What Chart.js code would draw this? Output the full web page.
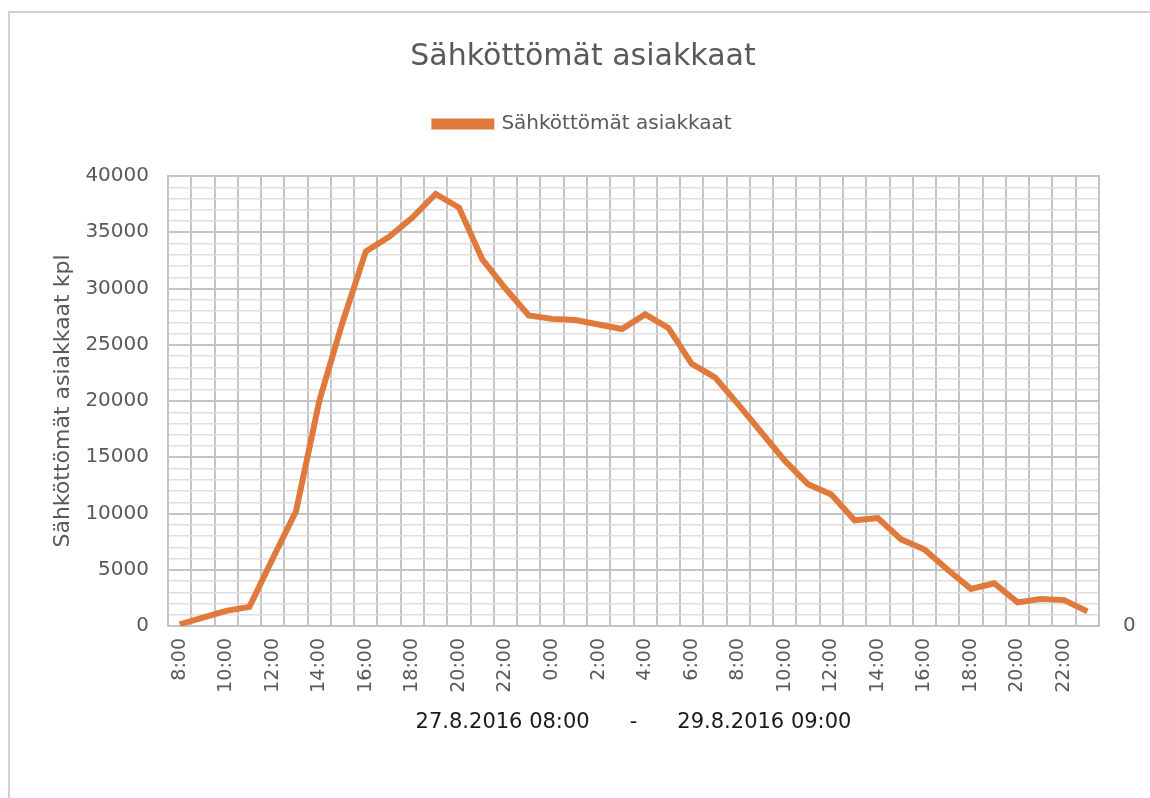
<!DOCTYPE html>
<html>
<head>
<meta charset="utf-8">
<script src="https://cdn.jsdelivr.net/npm/chart.js@4.4.1/dist/chart.umd.min.js"></script>
<style>
  html, body { margin: 0; padding: 0; background: #fff; overflow: hidden; }
  #wrap { position: relative; width: 1150px; height: 798px; }
  #frame { position: absolute; left: 8px; top: 11px; width: 1200px; height: 900px; border: 2px solid #d0d0d0; box-sizing: border-box; }
  canvas { position: absolute; left: 0; top: 0; }
</style>
</head>
<body>
<div id="wrap">
  <div id="frame"></div>
  <canvas id="chart" width="1150" height="798"></canvas>
</div>
<script>
'use strict';

// hourly readings, 27.8.2016 08:00 -> 28.8.2016 23:00
var hours = ['8:00', '9:00', '10:00', '11:00', '12:00', '13:00', '14:00', '15:00', '16:00', '17:00',
             '18:00', '19:00', '20:00', '21:00', '22:00', '23:00', '0:00', '1:00', '2:00', '3:00',
             '4:00', '5:00', '6:00', '7:00', '8:00', '9:00', '10:00', '11:00', '12:00', '13:00',
             '14:00', '15:00', '16:00', '17:00', '18:00', '19:00', '20:00', '21:00', '22:00', '23:00'];

var customers = [150, 750, 1350, 1700, 6000, 10200, 20000, 27000, 33300, 34600,
                 36300, 38400, 37200, 32600, 30000, 27600, 27300, 27200, 26800, 26400,
                 27700, 26500, 23300, 22100, 19700, 17200, 14700, 12600, 11700, 9400,
                 9600, 7700, 6800, 5000, 3300, 3800, 2100, 2400, 2300, 1300];

var seriesName = 'Sähköttömät asiakkaat';
var yTitle = 'Sähköttömät asiakkaat kpl';
var xTitle = '27.8.2016 08:00      -      29.8.2016 09:00';

var font = "'DejaVu Sans', sans-serif";
var gray = '#595959';
var orange = '#DF7A3C';

// push the plot area down below the legend, like the original
var legendGap = {
    id: 'legendGap',
    beforeInit: function(chart) {
        var fit = chart.legend.fit;
        chart.legend.fit = function() {
            fit.call(this);
            this.height += 32;
        };
    }
};

var ctx = document.getElementById('chart').getContext('2d');

var chart = new Chart(ctx, {
    type: 'line',
    data: {
        labels: hours,
        datasets: [
            {
                label: seriesName,
                data: customers,
                borderColor: orange,
                backgroundColor: orange,
                borderWidth: 6,
                pointRadius: 0,
                tension: 0,
                fill: false,
                yAxisID: 'y'
            }
        ]
    },
    plugins: [legendGap],
    options: {
        responsive: false,
        animation: false,
        layout: { padding: { left: 24, right: 8, top: 0, bottom: 0 } },
        plugins: {
            title: {
                display: true,
                text: seriesName,
                color: gray,
                font: { family: font, size: 30, weight: 'normal' },
                padding: { top: 39, bottom: 29 }
            },
            legend: {
                display: true,
                labels: {
                    color: gray,
                    font: { family: font, size: 20 },
                    boxWidth: 57,
                    boxHeight: 5,
                    padding: 10
                }
            },
            tooltip: { enabled: false }
        },
        scales: {
            x: {
                offset: true,
                grid: { offset: true, color: '#c4c4c4', lineWidth: 2, drawTicks: false },
                border: { color: '#c4c4c4', width: 2 },
                ticks: {
                    autoSkip: false,
                    minRotation: 90,
                    maxRotation: 90,
                    padding: 12,
                    color: gray,
                    font: { family: font, size: 19 },
                    callback: function(val, idx) {
                        return idx % 2 === 0 ? hours[idx] : '';
                    }
                },
                title: {
                    display: true,
                    text: xTitle,
                    color: '#1a1a1a',
                    font: { family: font, size: 21 },
                    padding: { top: 0, bottom: 63 }
                },
                afterFit: function(scale) { scale.height = 172; }
            },
            y: {
                position: 'left',
                min: 0,
                max: 40000,
                grid: {
                    drawTicks: false,
                    lineWidth: function(c) { return c.tick && c.tick.value % 5000 === 0 ? 2 : 1.5; },
                    color: function(c) { return c.tick && c.tick.value % 5000 === 0 ? '#c4c4c4' : '#dedede'; }
                },
                border: { color: '#c4c4c4', width: 2 },
                ticks: {
                    stepSize: 1000,
                    autoSkip: false,
                    padding: 19,
                    color: gray,
                    font: { family: font, size: 20 },
                    callback: function(v) { return v % 5000 === 0 ? String(v) : ''; }
                },
                title: {
                    display: true,
                    text: yTitle,
                    color: gray,
                    font: { family: font, size: 22 },
                    padding: { top: 26, bottom: 0 }
                },
                afterFit: function(scale) { scale.width = 144; }
            },
            y2: {
                position: 'right',
                min: 0,
                max: 40000,
                grid: { display: false },
                border: { color: '#c4c4c4', width: 2 },
                ticks: {
                    stepSize: 40000,
                    padding: 16,
                    color: gray,
                    font: { family: font, size: 20 },
                    callback: function(v) { return v === 0 ? '0' : ''; }
                },
                afterFit: function(scale) { scale.width = 43; }
            }
        }
    }
});
</script>
</body>
</html>
